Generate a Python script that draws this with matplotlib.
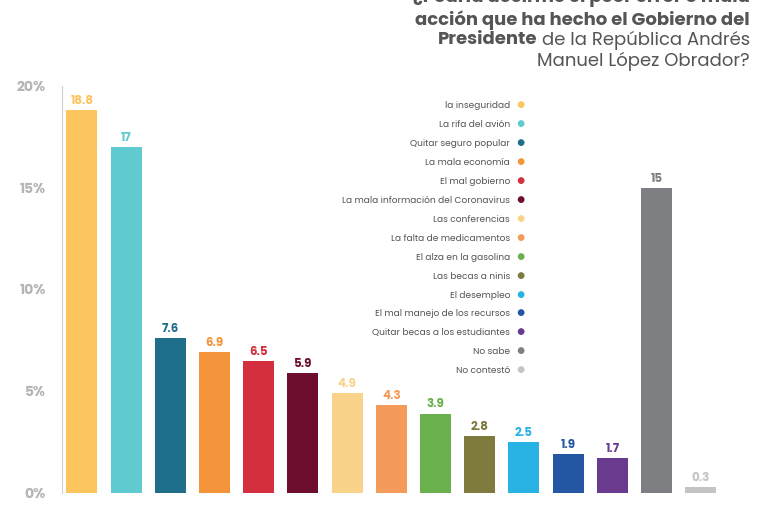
import matplotlib
matplotlib.use('Agg')
import matplotlib.pyplot as plt

categories = ['la inseguridad', 'La rifa del avión', 'Quitar seguro popular', 'La mala economía',
              'El mal gobierno', 'La mala información del Coronavirus', 'Las conferencias',
              'La falta de medicamentos', 'El alza en la gasolina', 'Las becas a ninis',
              'El desempleo', 'El mal manejo de los recursos', 'Quitar becas a los estudiantes',
              'No sabe', 'No contestó']
values = [18.8, 17, 7.6, 6.9, 6.5, 5.9, 4.9, 4.3, 3.9, 2.8, 2.5, 1.9, 1.7, 15, 0.3]
labels = ['18.8', '17', '7.6', '6.9', '6.5', '5.9', '4.9', '4.3', '3.9', '2.8', '2.5', '1.9', '1.7', '15', '0.3']
colors = ['#FDC55E', '#5FCBD1', '#1F6F8B', '#F4943B', '#D32F3F', '#6E0E2F', '#F9D38A',
          '#F49A5A', '#6AB04C', '#7F7A3E', '#29B3E5', '#2456A4', '#6A3A8E', '#7D7F83', '#C4C4C4']
yticks = [0, 5, 10, 15, 20]

plt.rcParams['font.family'] = ['Poppins', 'Lato', 'DejaVu Sans']
fig = plt.figure(figsize=(7.76, 5.05), dpi=100)
ax = fig.add_axes([0.08, 0.024, 0.86, 0.806])

x = list(range(len(values)))
ax.bar(x, values, width=0.7, color=colors)
for xi, v, lab, c in zip(x, values, labels, colors):
    ax.text(xi, v + 0.15, lab, ha='center', va='bottom', fontsize=8.5, fontweight='bold', color=c)

ax.set_xlim(-0.45, len(values) - 0.35)
ax.set_ylim(0, 20.6)
ax.set_yticks(yticks)
ax.set_yticklabels(['%d%%' % t for t in yticks], fontsize=10, fontweight='bold')
ax.tick_params(axis='y', length=0, pad=12, labelcolor='#B5B5B5')
ax.set_xticks([])
for s in ['top', 'right', 'bottom']:
    ax.spines[s].set_visible(False)
ax.spines['left'].set_color('#CFCFCF')
ax.set_ylim(0, 20)

# legend
for i, (cat, c) in enumerate(zip(categories, colors)):
    yy = 1 - (106 + i * 18.9) / 505
    fig.text(510 / 776, yy, cat, ha='right', va='center', fontsize=6.5, color='#555555')
    fig.text(520 / 776, yy, '●', ha='center', va='center', fontsize=10, color=c)

# title (top line cut off by the image edge, as in the reference)
tx = 750 / 776
fig.text(tx, 1.005, '¿Podría decirme el peor error o mala', ha='right', va='center',
         fontsize=13, fontweight='bold', color='#555555')
fig.text(tx, 1 - 20 / 505, 'acción que ha hecho el Gobierno del', ha='right', va='center',
         fontsize=13, fontweight='bold', color='#555555')
t1 = fig.text(tx, 1 - 40 / 505, 'de la República Andrés', ha='right', va='center',
              fontsize=13, color='#555555')
fig.canvas.draw()
bb = t1.get_window_extent()
fig.text((bb.x0 - 4) / fig.bbox.width, 1 - 40 / 505, 'Presidente', ha='right', va='center',
         fontsize=13, fontweight='bold', color='#555555')
fig.text(tx, 1 - 61 / 505, 'Manuel López Obrador?', ha='right', va='center',
         fontsize=13, color='#555555')

fig.savefig('out.png', dpi=100)
